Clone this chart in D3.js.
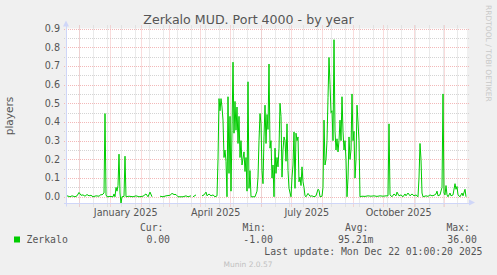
<!DOCTYPE html>
<html>
<head>
<meta charset="utf-8">
<script src="https://cdn.jsdelivr.net/npm/d3@7"></script>
<style>
  html, body { margin: 0; padding: 0; background: #f0f0f0; }
  svg { display: block; }
</style>
</head>
<body>
<div id="chart"></div>
<script>
// day offset from 2024-11-19, players (null = no data)
const zerkaloSeries = [
  [0, 0.005], [3, 0.0], [5, 0.005], [8, 0.0], [10, 0.005], [12, 0.023], [14, 0.008],
  [16, 0.01], [18, 0.003], [20, 0.012], [22, 0.005], [24, 0.008], [26, 0.0], [29, 0.005],
  [32, 0.003], [34, 0.012], [35, 0.01], [36, 0.015], [37, 0.02], [38, 0.445], [39, 0.01],
  [40, 0.0], [43, 0.002], [46, 0.0], [47, 0.015], [48, 0.0], [49, 0.05], [50, 0.03],
  [51, 0.06], [52, 0.228], [53, 0.02], [54, -0.035], [55, 0.0], [57, 0.002], [58, 0.217],
  [59, 0.0], [62, 0.003], [66, 0.0], [69, 0.005], [72, 0.0], [76, 0.003], [79, 0.015],
  [81, 0.0], [83, 0.025], [85, 0.0], [86, null], [93, 0.003], [96, 0.0], [99, 0.005],
  [103, 0.008], [105, 0.018], [107, 0.012], [109, 0.012], [111, 0.0], [116, 0.0],
  [119, 0.005], [121, 0.0], [124, 0.005], [125, null], [126, 0.0], [129, 0.01],
  [130, null], [135, 0.005], [137, 0.01], [139, 0.025], [140, 0.005], [142, 0.015],
  [144, 0.005], [146, 0.01], [148, 0.0], [150, 0.005], [151, 0.2],
  [152, 0.525], [153, 0.46], [154, 0.525], [155, 0.48], [156, 0.41], [157, 0.21],
  [158, 0.25], [159, 0.19], [160, 0.0], [161, 0.535], [162, 0.125], [163, 0.43],
  [164, 0.03], [165, 0.356], [166, 0.72], [167, 0.34], [168, 0.51], [169, 0.356],
  [170, 0.48], [171, 0.285], [172, 0.43], [173, 0.21], [174, 0.3], [175, 0.17],
  [177, 0.24], [178, 0.135], [179, 0.21], [180, 0.03], [181, 0.615], [182, 0.045],
  [183, 0.14], [184, 0.0], [186, 0.0], [188, 0.0], [190, 0.03], [191, 0.105], [192, 0.3],
  [193, 0.445], [194, 0.39], [195, 0.14], [196, 0.07], [197, 0.32], [198, 0.49],
  [199, 0.285], [200, 0.44], [201, 0.36], [202, 0.71], [203, 0.26], [204, 0.3],
  [205, 0.1], [206, 0.17], [207, 0.0], [208, 0.26], [209, 0.125], [210, 0.21],
  [211, 0.16], [212, 0.26], [213, 0.5], [214, 0.43], [215, 0.105], [216, 0.25],
  [217, 0.32], [218, 0.3], [219, 0.19], [220, 0.39], [221, 0.14], [222, 0.045],
  [224, 0.0], [225, 0.105], [226, 0.17], [227, 0.347], [228, 0.045], [229, 0.34],
  [230, 0.3], [231, 0.32], [232, 0.08], [233, 0.105], [234, 0.06], [235, 0.16],
  [236, 0.08], [237, 0.05], [238, 0.005],
  [239, 0.0], [241, 0.018], [243, 0.003], [245, 0.005], [247, 0.0], [249, 0.005],
  [251, 0.04], [252, 0.035], [253, 0.0], [255, 0.003], [256, 0.05],
  [257, 0.41], [258, 0.17], [259, 0.2], [260, 0.3], [261, 0.53], [262, 0.745],
  [263, 0.6], [264, 0.45], [265, 0.46], [266, 0.3], [267, 0.84], [268, 0.35],
  [269, 0.25], [270, 0.31], [271, 0.24], [272, 0.3], [273, 0.41], [274, 0.3],
  [275, 0.535], [276, 0.35], [277, 0.25], [278, 0.3], [279, 0.2], [280, 0.0],
  [281, 0.1], [282, 0.32], [283, 0.2], [284, 0.25], [285, 0.55], [286, 0.3],
  [287, 0.35], [288, 0.1], [289, 0.2], [290, 0.49], [291, 0.4], [292, 0.3], [293, 0.0],
  [295, 0.003], [298, 0.002], [301, 0.005], [304, 0.003], [307, 0.005], [310, 0.002],
  [313, 0.005], [316, 0.003], [319, 0.005], [321, 0.005], [322, 0.39], [323, 0.01],
  [325, 0.0], [327, 0.015], [329, 0.005], [330, 0.025], [332, 0.005], [334, 0.01],
  [336, 0.0], [338, 0.015], [339, 0.005], [341, 0.02], [343, 0.005], [345, 0.015],
  [347, 0.005], [349, 0.01], [351, 0.0], [352, 0.1], [353, 0.285], [354, 0.2],
  [355, 0.02], [356, 0.0], [359, 0.005], [361, 0.002], [363, 0.01], [365, 0.005],
  [367, 0.008], [369, 0.015], [370, 0.03], [371, 0.005], [373, 0.01], [375, 0.05],
  [376, 0.55], [377, 0.02], [378, 0.01], [379, 0.06], [380, 0.01], [381, 0.0],
  [383, 0.02], [384, 0.005], [386, 0.01], [388, 0.07], [389, 0.04], [390, 0.055],
  [391, 0.01], [393, 0.0], [395, 0.02], [396, 0.005], [398, 0.04], [399, 0.0]
];

const yTickValues = [0.0, 0.1, 0.2, 0.3, 0.4, 0.5, 0.6, 0.7, 0.8, 0.9];
const yMinorValues = [0.05, 0.15, 0.25, 0.35, 0.45, 0.55, 0.65, 0.75, 0.85];
const xLabelMonths = [[2025, 0], [2025, 3], [2025, 6], [2025, 9]];
const xLabelTexts = ["January 2025", "April 2025", "July 2025", "October 2025"];

const legendName = "Zerkalo";
const statHeads = ["Cur:", "Min:", "Avg:", "Max:"];
const statValues = ["0.00", "-1.00", "95.21m", "36.00"];
const lastUpdate = "Last update: Mon Dec 22 01:00:20 2025";

const startDate = new Date(2024, 10, 19);
const endDate = new Date(2025, 11, 24);

const width = 497, height = 275;
const plotLeft = 67, plotRight = 467, plotTop = 28.5, plotBottom = 203.5;
const textColor = "#555";
const sans = "DejaVu Sans, sans-serif";
const mono = "DejaVu Sans Mono, monospace";

const svg = d3.select("#chart").append("svg")
  .attr("width", width)
  .attr("height", height);

svg.append("rect").attr("width", width).attr("height", height).attr("fill", "#f0f0f0");
svg.append("rect")
  .attr("x", plotLeft).attr("y", plotTop)
  .attr("width", plotRight - plotLeft).attr("height", plotBottom - plotTop)
  .attr("fill", "#fff");

const x = d3.scaleTime().domain([startDate, endDate]).range([plotLeft, plotRight]);
const y = d3.scaleLinear().domain([-0.036, 0.9]).range([plotBottom, plotTop]);
const crisp = v => Math.round(v) + 0.5;

// grid, minor first then major
const dec1 = new Date(2024, 11, 1);
const minorDates = d3.timeSunday.range(startDate, endDate)
  .filter(d => d3.timeSunday.count(dec1, d) % 2 === 0);
const majorDates = d3.timeMonth.range(startDate, endDate);

const grid = svg.append("g").attr("stroke-dasharray", "1,1").attr("fill", "none");

grid.selectAll(".vminor").data(minorDates).join("line")
  .attr("x1", d => crisp(x(d))).attr("x2", d => crisp(x(d)))
  .attr("y1", plotTop - 3).attr("y2", plotBottom + 3)
  .attr("stroke", "#d4d4d4");

grid.selectAll(".hminor").data(yMinorValues).join("line")
  .attr("x1", plotLeft - 3).attr("x2", plotRight + 2)
  .attr("y1", d => crisp(y(d))).attr("y2", d => crisp(y(d)))
  .attr("stroke", "#d4d4d4");

grid.selectAll(".vmajor").data(majorDates).join("line")
  .attr("x1", d => crisp(x(d))).attr("x2", d => crisp(x(d)))
  .attr("y1", plotTop - 3).attr("y2", plotBottom + 3)
  .attr("stroke", "#f3b8b8");

grid.selectAll(".hmajor").data(yTickValues).join("line")
  .attr("x1", plotLeft - 3).attr("x2", plotRight + 2)
  .attr("y1", d => crisp(y(d))).attr("y2", d => crisp(y(d)))
  .attr("stroke", "#f3b8b8");

// data line
const line = d3.line()
  .defined(d => d[1] != null)
  .x(d => x(d3.timeDay.offset(startDate, d[0])))
  .y(d => y(d[1]));

svg.append("path")
  .datum(zerkaloSeries)
  .attr("fill", "none")
  .attr("stroke", "#00cc00")
  .attr("stroke-width", 1)
  .attr("d", line);

// axes with arrows
const axisColor = "#cfd6f8";
svg.append("line")
  .attr("x1", plotLeft - 3).attr("x2", plotRight + 4)
  .attr("y1", crisp(plotBottom) - 1).attr("y2", crisp(plotBottom) - 1)
  .attr("stroke", axisColor);
svg.append("line")
  .attr("x1", crisp(plotLeft) - 1).attr("x2", crisp(plotLeft) - 1)
  .attr("y1", plotBottom + 3).attr("y2", plotTop - 4)
  .attr("stroke", axisColor);
svg.append("path")
  .attr("d", `M${plotRight + 2},${plotBottom - 4} L${plotRight + 8},${plotBottom - 1} L${plotRight + 2},${plotBottom + 2} Z`)
  .attr("fill", axisColor);
svg.append("path")
  .attr("d", `M${plotLeft - 4},${plotTop - 2} L${plotLeft - 1},${plotTop - 8} L${plotLeft + 2},${plotTop - 2} Z`)
  .attr("fill", axisColor);

// y labels
svg.selectAll(".ylab").data(yTickValues).join("text")
  .attr("x", plotLeft - 7)
  .attr("y", d => y(d) + 3.4)
  .attr("text-anchor", "end")
  .attr("font-family", sans)
  .attr("font-size", "9.6px")
  .attr("fill", textColor)
  .text(d => d3.format(".1f")(d));

// x labels, centred mid-month like rrdtool
svg.selectAll(".xlab").data(xLabelMonths).join("text")
  .attr("x", d => x(new Date(d[0], d[1], 16, 18)))
  .attr("y", 216.3)
  .attr("text-anchor", "middle")
  .attr("font-family", sans)
  .attr("font-size", "9.6px")
  .attr("fill", textColor)
  .text((d, i) => xLabelTexts[i]);

// title and vertical label
svg.append("text")
  .attr("x", 248.5).attr("y", 24)
  .attr("text-anchor", "middle")
  .attr("font-family", sans)
  .attr("font-size", "12.6px")
  .attr("fill", textColor)
  .text("Zerkalo MUD. Port 4000 - by year");

svg.append("text")
  .attr("transform", `translate(13,${(plotTop + plotBottom) / 2}) rotate(-90)`)
  .attr("text-anchor", "middle")
  .attr("font-family", sans)
  .attr("font-size", "10.5px")
  .attr("fill", textColor)
  .text("players");

svg.append("text")
  .attr("transform", "translate(485.5,5) rotate(90)")
  .attr("font-family", sans)
  .attr("font-size", "7.5px")
  .attr("fill", "#c8c8c8")
  .text("RRDTOOL / TOBI OETIKER");

// legend
svg.append("rect")
  .attr("x", 14).attr("y", 236.5)
  .attr("width", 6).attr("height", 6)
  .attr("fill", "#00cc00");

svg.append("text")
  .attr("x", 26.5).attr("y", 242.6)
  .attr("font-family", mono)
  .attr("font-size", "9.8px")
  .attr("fill", textColor)
  .text(legendName);

const headEnds = [163.5, 266, 368.5, 470];
const valueEnds = [170, 272.8, 373.5, 476.8];

svg.selectAll(".shead").data(statHeads).join("text")
  .attr("x", (d, i) => headEnds[i]).attr("y", 230.8)
  .attr("text-anchor", "end")
  .attr("font-family", mono)
  .attr("font-size", "9.8px")
  .attr("fill", textColor)
  .text(d => d);

svg.selectAll(".sval").data(statValues).join("text")
  .attr("x", (d, i) => valueEnds[i]).attr("y", 242.6)
  .attr("text-anchor", "end")
  .attr("font-family", mono)
  .attr("font-size", "9.8px")
  .attr("fill", textColor)
  .text(d => d);

svg.append("text")
  .attr("x", 482.5).attr("y", 254.6)
  .attr("text-anchor", "end")
  .attr("font-family", mono)
  .attr("font-size", "9.8px")
  .attr("fill", textColor)
  .text(lastUpdate);

svg.append("text")
  .attr("x", 248).attr("y", 267)
  .attr("text-anchor", "middle")
  .attr("font-family", sans)
  .attr("font-size", "7.5px")
  .attr("fill", "#c0c0c0")
  .text("Munin 2.0.57");
</script>
</body>
</html>
